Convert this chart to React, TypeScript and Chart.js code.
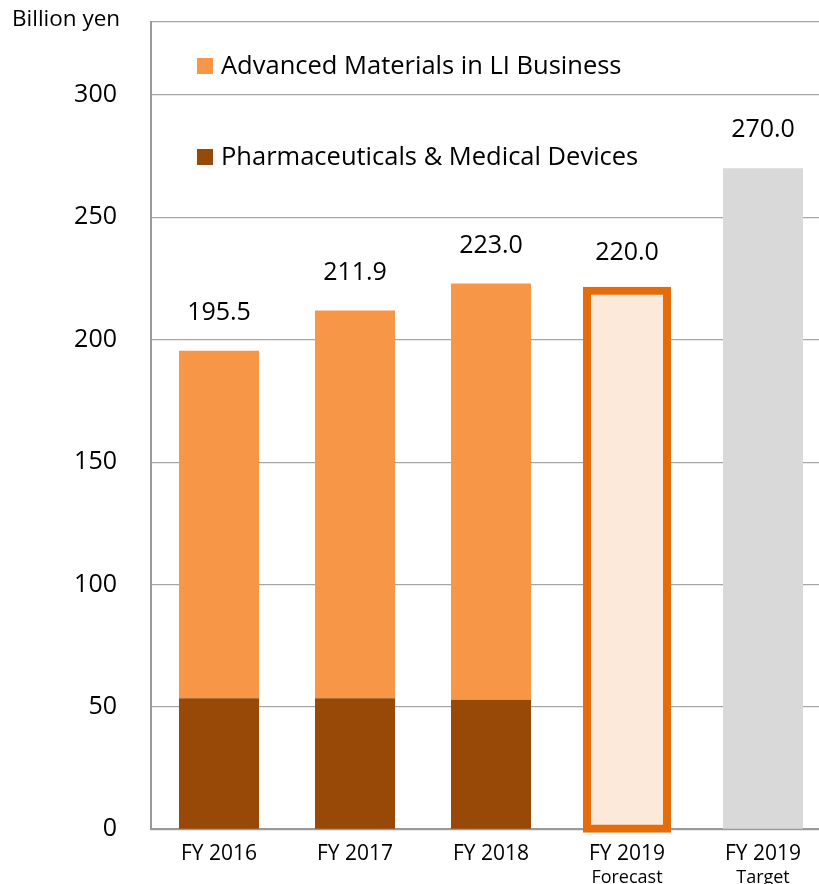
import React, { useEffect, useRef } from 'react';
import { Chart, registerables } from 'chart.js';

Chart.register(...registerables);

const categories = ['FY 2016', 'FY 2017', 'FY 2018', 'FY 2019', 'FY 2019'];
const subLabels = ['', '', '', 'Forecast', 'Target'];
const pharmaValues = [53.5, 53.5, 52.9, null, null];
const materialsValues = [142.0, 158.4, 170.1, null, null];
const forecastValues = [null, null, null, 220.0, null];
const targetValues = [null, null, null, null, 270.0];
const yTickValues = [0, 50, 100, 150, 200, 250, 300];
const yMax = 330;
const unitLabel = 'Billion yen';
const pharmaName = 'Pharmaceuticals & Medical Devices';
const materialsName = 'Advanced Materials in LI Business';

const FONT = "'Open Sans', 'Noto Sans', sans-serif";

const totals = categories.map((_, i) => {
  const parts = [pharmaValues[i], materialsValues[i], forecastValues[i], targetValues[i]];
  return parts.reduce((s: number, v) => s + (v == null ? 0 : (v as number)), 0);
});

const overlayPlugin = {
  id: 'overlay',
  afterDatasetsDraw(chart: any) {
    const { ctx, chartArea, scales } = chart;
    const x = scales.x;
    const y = scales.y;
    ctx.save();
    // value labels above bars
    ctx.fillStyle = '#000';
    ctx.font = `25px ${FONT}`;
    ctx.textAlign = 'center';
    ctx.textBaseline = 'middle';
    totals.forEach((t, i) => {
      const px = x.getPixelForValue(i);
      const py = y.getPixelForValue(t);
      ctx.fillText(t.toFixed(1), px, py - 38);
    });
    // sub labels under category labels
    ctx.font = `18px ${FONT}`;
    subLabels.forEach((s, i) => {
      if (!s) return;
      ctx.fillText(s, x.getPixelForValue(i), chartArea.bottom + 48.5);
    });
    // unit label
    ctx.font = `22.5px ${FONT}`;
    ctx.textAlign = 'left';
    ctx.fillText(unitLabel, 12, 20);
    // legend (inside plot area)
    const items = [
      { label: materialsName, color: chart.data.datasets[1].backgroundColor },
      { label: pharmaName, color: chart.data.datasets[0].backgroundColor },
    ];
    ctx.font = `25.5px ${FONT}`;
    items.forEach((it, k) => {
      const cy = chartArea.top + 44.5 + k * 91;
      ctx.fillStyle = it.color;
      ctx.fillRect(chartArea.left + 46, cy - 8, 16, 16);
      ctx.fillStyle = '#000';
      ctx.fillText(it.label, chartArea.left + 70, cy + 1);
    });
    ctx.restore();
  },
};

export default function App() {
  const canvasRef = useRef<HTMLCanvasElement | null>(null);

  useEffect(() => {
    const canvas = canvasRef.current;
    if (!canvas) return;
    const chart = new Chart(canvas, {
      type: 'bar',
      data: {
        labels: categories,
        datasets: [
          {
            label: pharmaName,
            data: pharmaValues as any,
            backgroundColor: '#984807',
            borderWidth: 0,
            inflateAmount: 0,
          } as any,
          {
            label: materialsName,
            data: materialsValues as any,
            backgroundColor: '#F79646',
            borderWidth: 0,
            inflateAmount: 0,
          } as any,
          {
            label: 'Forecast',
            data: forecastValues as any,
            backgroundColor: '#FDE9D9',
            borderColor: '#E46C0A',
            borderWidth: 8,
            borderSkipped: false,
            inflateAmount: 4,
            clip: false,
          } as any,
          {
            label: 'Target',
            data: targetValues as any,
            backgroundColor: '#D9D9D9',
            borderWidth: 0,
            inflateAmount: 0,
          } as any,
        ],
      },
      options: {
        responsive: false,
        animation: false,
        devicePixelRatio: 1,
        layout: { padding: { left: 0, top: 21.5, right: 29, bottom: 0 } },
        datasets: { bar: { categoryPercentage: 1, barPercentage: 80 / 136 } },
        plugins: {
          legend: { display: false },
          tooltip: { enabled: false },
          title: { display: false },
        },
        scales: {
          x: {
            stacked: true,
            grid: { display: false, drawTicks: false },
            border: { display: true, color: '#9a9a9a', width: 2 },
            ticks: {
              color: '#000',
              font: { family: FONT, size: 21 },
              padding: 12.5,
              maxRotation: 0,
              autoSkip: false,
            },
            afterFit: (scale: any) => {
              scale.height = 900 - 829.3;
              scale.paddingLeft = 0;
              scale.paddingRight = 0;
            },
          },
          y: {
            stacked: true,
            min: 0,
            max: yMax,
            grid: { color: '#a6a6a6', lineWidth: 1.2, drawTicks: false },
            border: { display: true, color: '#9a9a9a', width: 2 },
            ticks: {
              color: '#000',
              font: { family: FONT, size: 25 },
              padding: 34,
              callback: (v: any) => (yTickValues.includes(Number(v)) ? String(v) : ''),
            },
            afterBuildTicks: (scale: any) => {
              scale.ticks = [...yTickValues, yMax].map((v) => ({ value: v }));
            },
            afterFit: (scale: any) => {
              scale.width = 151;
              scale.paddingTop = 0;
              scale.paddingBottom = 0;
            },
          },
        },
      },
      plugins: [overlayPlugin],
    });
    return () => chart.destroy();
  }, []);

  return (
    <div style={{ position: 'absolute', left: 0, top: 0, width: 819, height: 884, overflow: 'hidden', background: '#fff' }}>
      <canvas ref={canvasRef} width={860} height={900} style={{ display: 'block', width: 860, height: 900 }} />
    </div>
  );
}
